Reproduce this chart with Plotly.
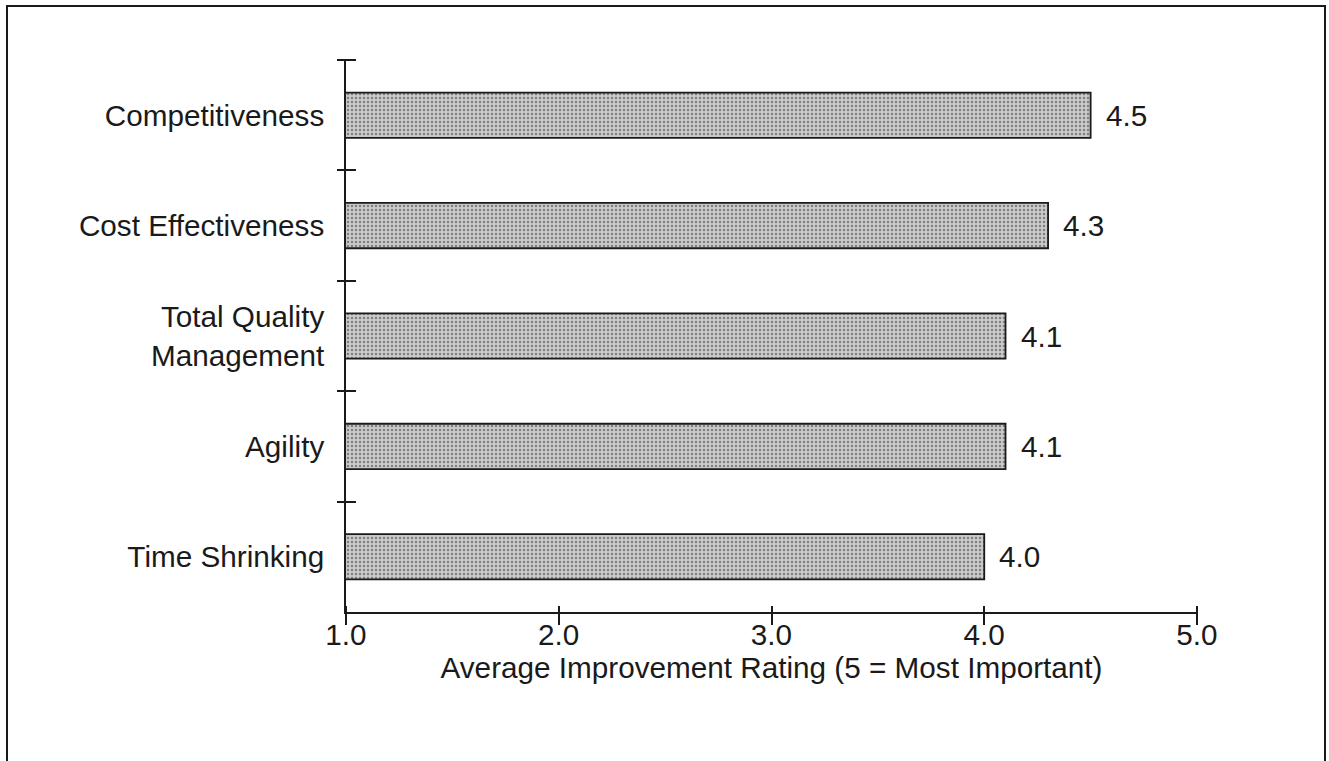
import plotly.graph_objects as go

# Survey results: average improvement rating per driver
categories = [
    "Competitiveness",
    "Cost Effectiveness",
    "Total Quality<br>Management",
    "Agility",
    "Time Shrinking",
]
ratings = [4.5, 4.3, 4.1, 4.1, 4.0]
x_ticks = [1.0, 2.0, 3.0, 4.0, 5.0]
x_title = "Average Improvement Rating (5 = Most Important)"

FONT = "Liberation Sans, Arial, sans-serif"
FS = 29.7
INK = "#1a1a1a"

W, H = 1329, 761
M = dict(l=346, r=132, t=60, b=149)
pw = W - M["l"] - M["r"]
ph = H - M["t"] - M["b"]

fig = go.Figure()

bar_style = dict(
    color="#c8c8c8",
    line=dict(color=INK, width=1.8),
    pattern=dict(shape=".", fgcolor="#808080", bgcolor="#cbcbcb",
                 size=4, solidity=0.3, fillmode="replace"),
)

fig.add_trace(go.Bar(
    x=ratings, y=categories, orientation="h", width=0.41,
    marker=bar_style, hoverinfo="skip", showlegend=False,
))

# twin axes, nudged just inside the plot, draw the crossing tick marks
fig.add_trace(go.Scatter(
    x=ratings, y=categories, mode="markers",
    xaxis="x2", yaxis="y2", marker=dict(opacity=0),
    hoverinfo="skip", showlegend=False,
))

# value labels to the right of each bar
for cat, val in zip(categories, ratings):
    fig.add_annotation(
        x=val, y=cat, text=f"{val:.1f}", showarrow=False,
        xanchor="left", yanchor="middle", xshift=13,
        font=dict(family=FONT, size=FS, color=INK),
    )

common_x = dict(range=[1, 5], tickmode="array", tickvals=x_ticks,
                showgrid=False, zeroline=False)
common_y = dict(type="category", categoryarray=categories,
                categoryorder="array", range=[4.5, -0.5],
                tickson="boundaries", showgrid=False)

fig.update_layout(
    width=W, height=H, margin=M,
    paper_bgcolor="white", plot_bgcolor="white",
    font=dict(family=FONT, size=FS, color=INK),
    xaxis=dict(
        **common_x,
        ticktext=[f"{v:.1f}" for v in x_ticks],
        ticks="outside", ticklen=12, tickwidth=0.01, tickcolor="rgba(0,0,0,0)",
        showline=True, linecolor=INK, linewidth=1.6,
        ticklabelstandoff=-16,
        title=dict(text=x_title, standoff=0,
                   font=dict(family=FONT, size=FS, color=INK)),
        tickfont=dict(family=FONT, size=FS, color=INK),
    ),
    xaxis2=dict(
        **common_x, overlaying="x", anchor="free", position=7 / ph,
        side="bottom",
        ticks="outside", ticklen=19, tickwidth=1.6, tickcolor=INK,
        showticklabels=False, showline=False,
    ),
    yaxis=dict(
        **common_y,
        ticks="outside", ticklen=9, tickwidth=0.01, tickcolor="rgba(0,0,0,0)",
        showline=True, linecolor=INK, linewidth=1.6,
        ticklabelstandoff=14,
        tickfont=dict(family=FONT, size=FS, color=INK),
    ),
    yaxis2=dict(
        **common_y, overlaying="y", anchor="free", position=10 / pw,
        side="left",
        ticks="outside", ticklen=19, tickwidth=1.6, tickcolor=INK,
        showticklabels=False, showline=False,
    ),
)

# outer frame around the whole figure
fig.add_shape(
    type="rect", xref="paper", yref="paper",
    x0=(7 - M["l"]) / pw, x1=(1325 - M["l"]) / pw,
    y0=(H - 770 - M["b"]) / ph, y1=(H - 6 - M["b"]) / ph,
    line=dict(color=INK, width=2), fillcolor="rgba(0,0,0,0)", layer="above",
)

fig.write_html("out.html")
